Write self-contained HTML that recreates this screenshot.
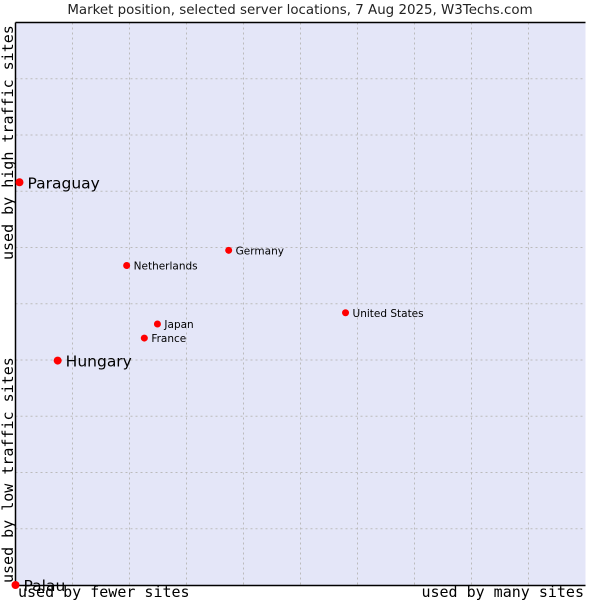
<!DOCTYPE html>
<html><head><meta charset="utf-8"><style>
body{margin:0;background:#fff;}
svg{display:block;font-family:"DejaVu Sans","Liberation Sans",sans-serif;}
</style></head><body>
<svg id="chart" width="600" height="600" viewBox="0 0 600 600">
<text x="300" y="14" text-anchor="middle" font-size="13.4" fill="#222">Market position, selected server locations, 7 Aug 2025, W3Techs.com</text>
<rect x="15.5" y="22.5" width="570" height="562.5" fill="#e4e6f8"/>
<g id="grid"></g>
<path d="M15.5 22.5H585.5M15.5 22.5V585.5H585.5" stroke="#000" stroke-width="1.5" fill="none"/>
<g id="points"></g>
<text x="18" y="597" font-family="DejaVu Sans Mono,Liberation Mono,monospace" font-size="15" fill="#000">used by fewer sites</text>
<text x="584" y="597" text-anchor="end" font-family="DejaVu Sans Mono,Liberation Mono,monospace" font-size="15" fill="#000">used by many sites</text>
<text transform="translate(13,583) rotate(-90)" font-family="DejaVu Sans Mono,Liberation Mono,monospace" font-size="15" fill="#000">used by low traffic sites</text>
<text transform="translate(13,260) rotate(-90)" font-family="DejaVu Sans Mono,Liberation Mono,monospace" font-size="15" fill="#000">used by high traffic sites</text>
</svg>
<script>
const names=["Paraguay","Hungary","Palau","Netherlands","Germany","Japan","France","United States"];
const xVals=[0.007,0.074,0.0,0.195,0.374,0.249,0.226,0.579];
const yVals=[0.716,0.399,0.0,0.568,0.595,0.464,0.439,0.484];
const bigLabel=[true,true,true,false,false,false,false,false];
const L=15.5,R=585.5,T=22.5,B=585;
const sx=v=>L+v*(R-L), sy=v=>B-v*(B-T);
const NS="http://www.w3.org/2000/svg";
const grid=document.getElementById('grid');
for(let i=1;i<10;i++){
  const v=document.createElementNS(NS,'line');
  
  
  v.setAttribute('x1',sx(i/10));v.setAttribute('x2',sx(i/10));v.setAttribute('y1',T);v.setAttribute('y2',B);
  v.setAttribute('stroke','#bbb');v.setAttribute('stroke-dasharray','2,3');grid.appendChild(v);
  const h=document.createElementNS(NS,'line');
  
  
  h.setAttribute('y1',sy(i/10));h.setAttribute('y2',sy(i/10));h.setAttribute('x1',L);h.setAttribute('x2',R);
  h.setAttribute('stroke','#bbb');h.setAttribute('stroke-dasharray','2,3');grid.appendChild(h);
}
const pts=document.getElementById('points');
names.forEach((n,i)=>{
  const x=sx(xVals[i]),y=sy(yVals[i]);
  const c=document.createElementNS(NS,'circle');
  
  
  c.setAttribute('cx',x);c.setAttribute('cy',y);c.setAttribute('r',bigLabel[i]?4:3.5);c.setAttribute('fill','#f00');
  pts.appendChild(c);
  const t=document.createElementNS(NS,'text');
  
  
  t.setAttribute('x',x+(bigLabel[i]?8:7));t.setAttribute('y',y+(bigLabel[i]?6:4));
  t.setAttribute('font-size',bigLabel[i]?15.5:10.5);t.setAttribute('fill','#000');
  t.textContent=n;pts.appendChild(t);
});
</script>
</body></html>
